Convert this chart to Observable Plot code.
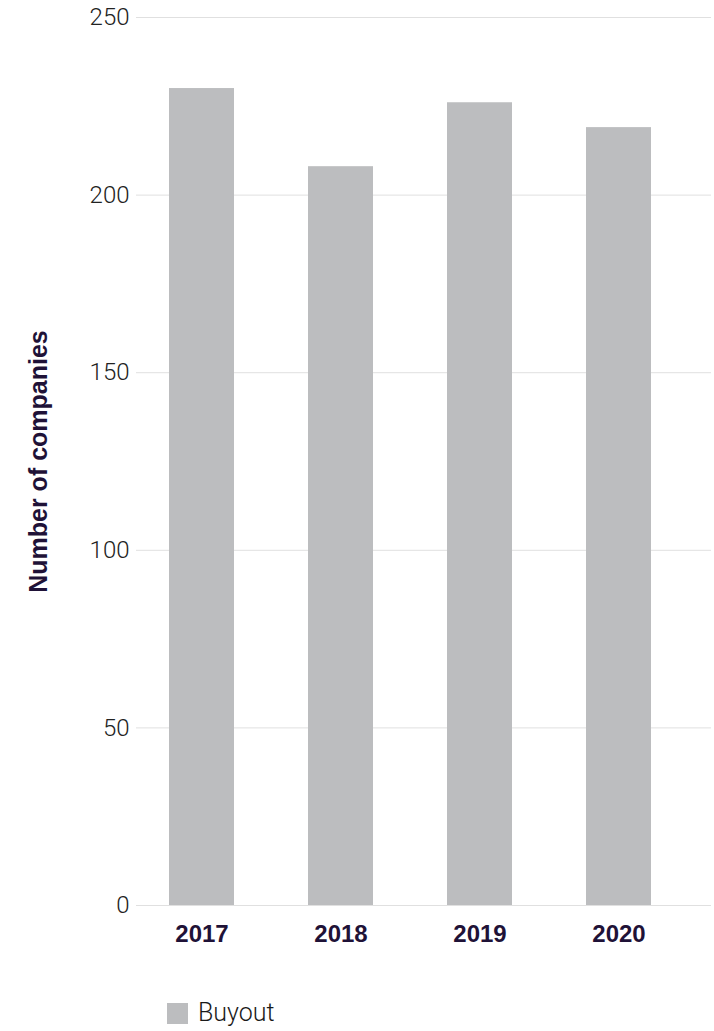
<!DOCTYPE html>
<html>
<head>
<meta charset="utf-8">
<script src="https://cdn.jsdelivr.net/npm/d3@7"></script>
<script src="https://cdn.jsdelivr.net/npm/@observablehq/plot@0.6"></script>
<style>
  html, body { margin: 0; padding: 0; background: #fff; overflow: hidden; }
  #chart svg { display: block; }
  .legend { display: flex; align-items: center; padding-left: 167px; margin-top: 40px; height: 26px;
            font-family: Roboto, "Liberation Sans", sans-serif; font-weight: 300; font-size: 25px; line-height: 26px; color: #1a1a1a; }
  .legend .sw { width: 21px; height: 21px; background: #bcbdbf; margin-right: 10px; }
</style>
</head>
<body>
<div id="chart"></div>
<script>
const years = ["2017", "2018", "2019", "2020"];
const buyout = [230, 208, 226, 219];
const yTicks = [0, 50, 100, 150, 200, 250];
const seriesName = "Buyout";
const yLabel = "Number of companies";

const rows = years.map((year, i) => ({year, value: buyout[i]}));

const boldColor = "#1f1237";
const barColor = "#bcbdbf";

const plot = Plot.plot({
  width: 714,
  height: 960,
  marginTop: 17,
  marginBottom: 55,
  marginLeft: 136,
  marginRight: 3,
  style: {fontFamily: "Roboto, 'Liberation Sans', sans-serif", background: "#fff"},
  x: {domain: years, range: [131.7, 689.1], paddingInner: 0.5335, paddingOuter: 0.267, label: null},
  y: {domain: [0, 250], label: null},
  marks: [
    Plot.gridY(yTicks, {stroke: "#e0e0e0", strokeOpacity: 1, strokeWidth: 1}),
    Plot.barY(rows, {x: "year", y: "value", fill: barColor}),
    Plot.axisY(yTicks, {tickSize: 0, tickPadding: 7, fontSize: 24, fill: "#222", fontWeight: 300, label: null}),
    Plot.axisX({tickSize: 0, tickPadding: 19, fontSize: 24, fontWeight: "bold", fill: boldColor,
                fontFamily: "'Liberation Sans', Arial, sans-serif", label: null}),
    Plot.text([yLabel], {frameAnchor: "left", dx: -98, rotate: -90, text: d => d, fontSize: 25,
                fontWeight: "bold", fill: boldColor, fontFamily: "'Liberation Sans', Arial, sans-serif",
                textAnchor: "middle", lineAnchor: "middle"})
  ]
});
document.getElementById("chart").appendChild(plot);

const legend = document.createElement("div");
legend.className = "legend";
legend.innerHTML = `<div class="sw"></div><span>${seriesName}</span>`;
document.body.appendChild(legend);
</script>
</body>
</html>
